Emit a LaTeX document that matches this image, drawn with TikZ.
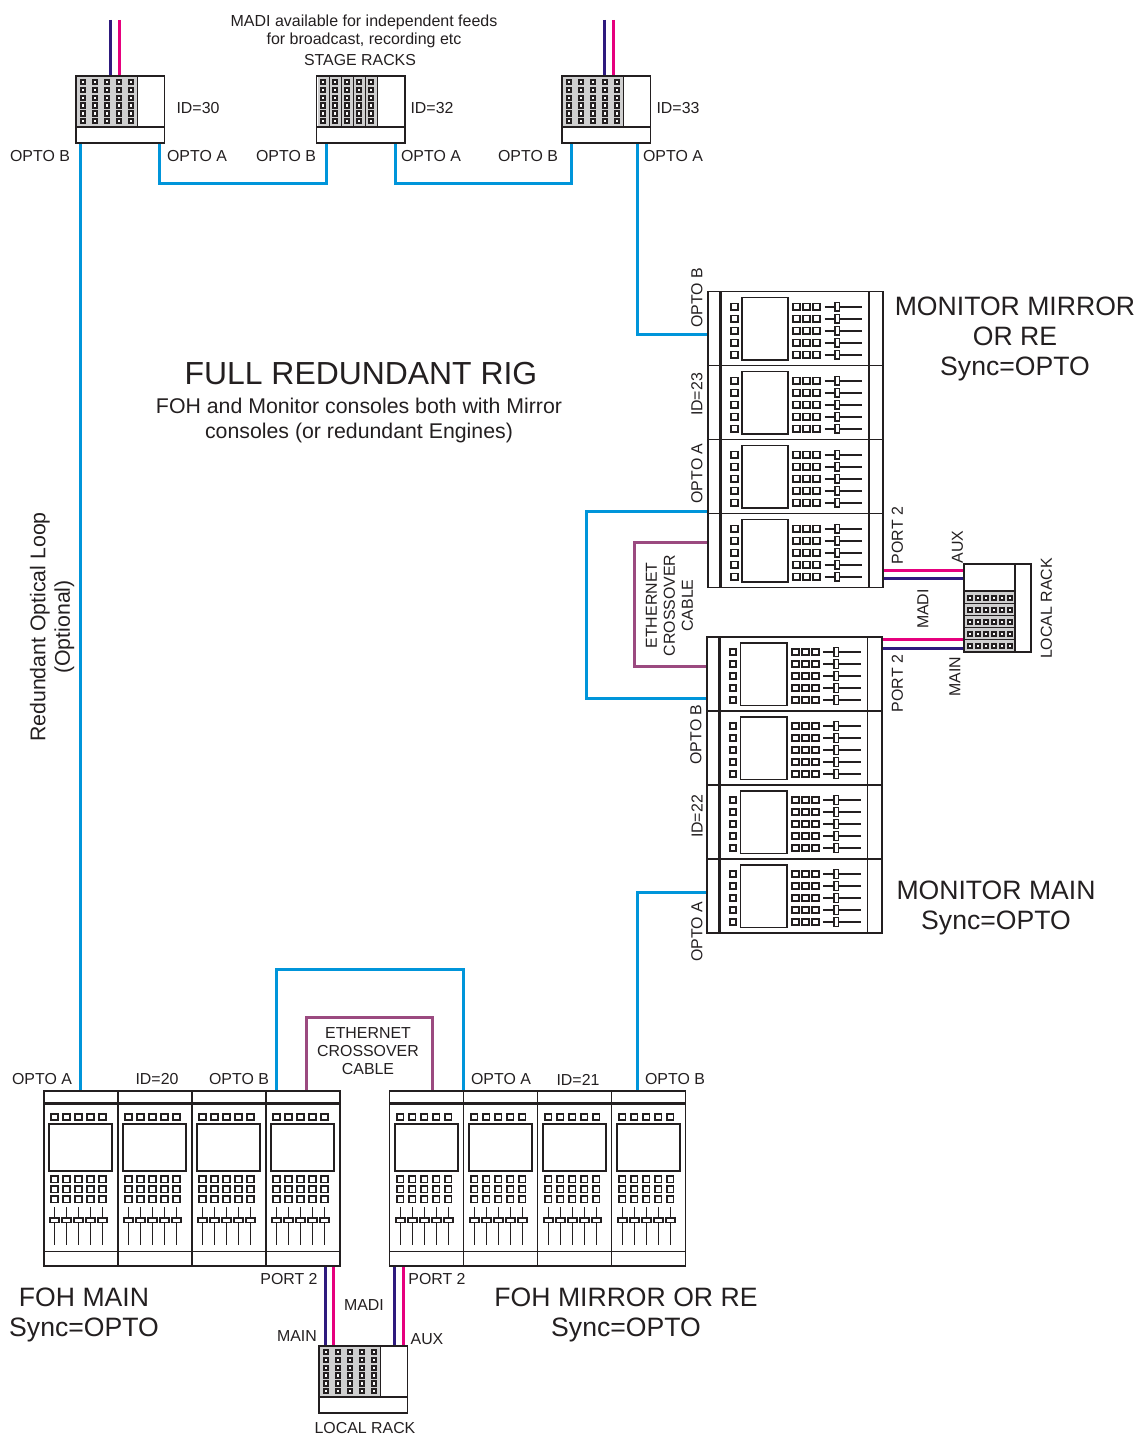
\documentclass[tikz,border=0pt]{standalone}
\usepackage{fontspec}
\setmainfont{Liberation Sans}

\definecolor{inkdark}{HTML}{231F20}
\definecolor{optoblue}{HTML}{0095DA}
\definecolor{madipink}{HTML}{E6007E}
\definecolor{madinavy}{HTML}{2E1A7E}
\definecolor{etherpurple}{HTML}{9B4A80}
\definecolor{stripgrey}{HTML}{CFCFCF}

\tikzset{
  outline/.style={draw=inkdark,line width=1.7pt},
  optoline/.style={draw=optoblue,line width=3pt},
  etherline/.style={draw=etherpurple,line width=3pt},
  pinkline/.style={draw=madipink,line width=3pt},
  navyline/.style={draw=madinavy,line width=3pt},
  smalltext/.style={inner sep=0pt,text=inkdark,align=center,font=\fontsize{15.9}{18}\selectfont},
  midtext/.style={inner sep=0pt,text=inkdark,align=center,font=\fontsize{21.3}{24.5}\selectfont},
  bigtext/.style={inner sep=0pt,text=inkdark,align=center,font=\fontsize{26.6}{30}\selectfont},
  titletext/.style={inner sep=0pt,text=inkdark,align=center,font=\fontsize{31.9}{36}\selectfont},
  % Стойка: пять полос с гнёздами и пустая часть справа
  rackunit/.pic={
    \foreach \col in {0,...,4} {
      \fill[stripgrey] ({1.2+12*\col},0) rectangle ({13.2+12*\col},51);
      \draw[inkdark,line width=1.3pt] ({13.2+12*\col},0) -- ({13.2+12*\col},51);
      \foreach \row in {0,...,5} {
        \filldraw[draw=inkdark,fill=white,line width=2pt]
          ({4.6+12*\col},{4+7.9*\row}) rectangle ({8.8+12*\col},{8.2+7.9*\row});
      }
    }
    \draw[outline] (0,51) -- (88.4,51);
    \draw[outline] (0,0) rectangle (88.4,67.3);
  },
  % Одна секция пульта; начало координат в левом верхнем углу
  consoleunit/.pic={
    \draw[inkdark,line width=2.6pt] (0,12.6) -- (74,12.6);
    \draw[inkdark,line width=1.3pt] (0,161) -- (74,161);
    \foreach \col in {0,...,4} {
      \draw[inkdark,line width=1.9pt]
        ({10.7+12*\col-3.2},23.2) rectangle ({10.7+12*\col+3.2},29.6);
      \foreach \row in {0,...,2} {
        \draw[inkdark,line width=1.9pt]
          ({10.7+12*\col-3.2},{85.4+10*\row}) rectangle ({10.7+12*\col+3.2},{91.8+10*\row});
      }
      \draw[inkdark,line width=1.6pt]
        ({10.7+12*\col},116.6) -- ({10.7+12*\col},154.3);
      \filldraw[draw=inkdark,fill=white,line width=1.6pt]
        ({10.7+12*\col-4.4},127) rectangle ({10.7+12*\col+4.4},131.6);
    }
    \draw[inkdark,line width=1.8pt] (5.3,33.6) rectangle (68,80);
    \draw[outline] (0,0) rectangle (74,175.3);
  }
}

\begin{document}
\begin{tikzpicture}[
  x=1pt,
  y=-1pt,
  line cap=butt,
  line join=miter
]
  \useasboundingbox (0,0) rectangle (1139,1437);

  % Точки подключения кабелей
  \coordinate (ThirtyB) at (80,143);
  \coordinate (ThirtyA) at (159,143);
  \coordinate (ThirtyTwoB) at (326,143);
  \coordinate (ThirtyTwoA) at (395,143);
  \coordinate (ThirtyThreeB) at (571,143);
  \coordinate (ThirtyThreeA) at (637,143);
  \coordinate (MirrorOptoB) at (708,334);
  \coordinate (MirrorOptoA) at (708,511);
  \coordinate (MirrorEther) at (708,542.5);
  \coordinate (MonOptoB) at (707,698);
  \coordinate (MonEther) at (707,666.5);
  \coordinate (MonOptoA) at (707,892);
  \coordinate (FohOptoA) at (80,1091);
  \coordinate (FohEther) at (306,1091);
  \coordinate (FohOptoB) at (276,1091);
  \coordinate (FmrOptoA) at (463,1091);
  \coordinate (FmrEther) at (432,1091);
  \coordinate (FmrOptoB) at (637,1091);

  % Оптическая петля
  \draw[optoline] (ThirtyB) -- (FohOptoA);
  \draw[optoline] (ThirtyA) -- ++(0,40) -| (ThirtyTwoB);
  \draw[optoline] (ThirtyTwoA) -- ++(0,40) -| (ThirtyThreeB);
  \draw[optoline] (ThirtyThreeA) |- (MirrorOptoB);
  \draw[optoline] (MirrorOptoA) -- (586.5,511) |- (MonOptoB);
  \draw[optoline] (MonOptoA) -| (FmrOptoB);
  \draw[optoline] (FohOptoB) |- (463,969) -- (FmrOptoA);

  % Кросс-кабели
  \draw[etherline] (MirrorEther) -- (634.3,542.5) |- (MonEther);
  \draw[etherline] (FohEther) |- (432,1017) -- (FmrEther);

  % MADI
  \draw[navyline] (110,20) -- (110,76);
  \draw[pinkline] (119,20) -- (119,75);
  \draw[navyline] (604.5,20) -- (604.5,76);
  \draw[pinkline] (613.5,20) -- (613.5,75);
  \draw[navyline] (325.3,1266) -- (325.3,1346);
  \draw[pinkline] (333.3,1266) -- (333.3,1346);
  \draw[navyline] (394.3,1266) -- (394.3,1346);
  \draw[pinkline] (403.3,1266) -- (403.3,1346);
  \draw[pinkline] (884,570.7) -- (964,570.7);
  \draw[navyline] (884,578.7) -- (964,578.7);
  \draw[pinkline] (883,639.3) -- (964,639.3);
  \draw[navyline] (883,648) -- (964,648);

  % Стойки
  \pic at (76,75.7) {rackunit};
  \pic at (316.6,75.7) {rackunit};
  \pic at (562.2,75.7) {rackunit};
  \pic at (319.2,1345.7) {rackunit};
  \pic[rotate=90] at (964,652.3) {rackunit};

  % Пульты
  \foreach \i in {0,...,3} {
    \pic at ({43.8+74*\i},1090.7) {consoleunit};
    \pic at ({389.6+74*\i},1090.7) {consoleunit};
    \pic[rotate=90] at (708,{365.4+74*\i}) {consoleunit};
    \pic[rotate=90] at (706.8,{710.7+74*\i}) {consoleunit};
  }

  % Подписи вверху
  \node[smalltext,font=\fontsize{16}{18}\selectfont] (madinote) at (364,31.5) {MADI available for independent feeds\\for broadcast, recording etc};
  \node[smalltext] (stagelabel) at (360,60.5) {STAGE RACKS};
  \node[smalltext] (idthirty) at (198,108.5) {ID=30};
  \node[smalltext] (idthirtytwo) at (432,108.5) {ID=32};
  \node[smalltext] (idthirtythree) at (678,108.5) {ID=33};
  \node[smalltext] (labelb) at (40,156.5) {OPTO B};
  \node[smalltext] (labela) at (197,156.5) {OPTO A};
  \node[smalltext] (labelc) at (286,156.5) {OPTO B};
  \node[smalltext] (labeld) at (431,156.5) {OPTO A};
  \node[smalltext] (labele) at (528,156.5) {OPTO B};
  \node[smalltext] (labelf) at (673,156.5) {OPTO A};

  \node[titletext] (title) at (361,374) {FULL REDUNDANT RIG};
  \node[midtext] (subtitle) at (359,420.5) {FOH and Monitor consoles both with Mirror\\consoles (or redundant Engines)};
  \node[midtext,rotate=90] (looplabel) at (52,627) {Redundant Optical Loop\\(Optional)};

  % Подписи мониторных пультов
  \node[bigtext] (mirrorname) at (1015,338.5) {MONITOR MIRROR\\OR RE\\Sync=OPTO};
  \node[bigtext] (monname) at (996,907.5) {MONITOR MAIN\\Sync=OPTO};
  \node[smalltext,rotate=90] (monoptob) at (697,298) {OPTO B};
  \node[smalltext,rotate=90] (monid) at (697,394.5) {ID=23};
  \node[smalltext,rotate=90] (monoptoa) at (697,473.5) {OPTO A};
  \node[smalltext,rotate=90] (monportup) at (897.5,535.5) {PORT 2};
  \node[smalltext,rotate=90] (monaux) at (957.5,547) {AUX};
  \node[smalltext,rotate=90] (monmadi) at (923,609) {MADI};
  \node[smalltext,rotate=90] (monmain) at (955,676.5) {MAIN};
  \node[smalltext,rotate=90] (monportlow) at (897.5,683.5) {PORT 2};
  \node[smalltext,rotate=90] (monrack) at (1046.5,608.5) {LOCAL RACK};
  \node[smalltext,rotate=90] (monether) at (669.5,605.5) {ETHERNET\\CROSSOVER\\CABLE};
  \node[smalltext,rotate=90] (lowoptob) at (696,734.5) {OPTO B};
  \node[smalltext,rotate=90] (lowid) at (697,816.5) {ID=22};
  \node[smalltext,rotate=90] (lowoptoa) at (697,931.5) {OPTO A};

  % Подписи пультов FOH
  \node[smalltext] (fohether) at (368,1051.5) {ETHERNET\\CROSSOVER\\CABLE};
  \node[smalltext] (fohoptoa) at (42,1079.5) {OPTO A};
  \node[smalltext] (fohid) at (157,1079.5) {ID=20};
  \node[smalltext] (fohoptob) at (239,1079.5) {OPTO B};
  \node[smalltext] (fmroptoa) at (501,1079.5) {OPTO A};
  \node[smalltext] (fmrid) at (578,1079.5) {ID=21};
  \node[smalltext] (fmroptob) at (675,1079.5) {OPTO B};
  \node[smalltext] (fohport) at (289,1279.5) {PORT 2};
  \node[smalltext] (fmrport) at (437,1279.5) {PORT 2};
  \node[smalltext] (fohmadi) at (364,1305.5) {MADI};
  \node[smalltext] (fohmain) at (297,1336.5) {MAIN};
  \node[smalltext] (fmraux) at (427,1339.5) {AUX};
  \node[smalltext] (fohrack) at (365,1428.5) {LOCAL RACK};
  \node[bigtext] (fohname) at (84,1314.5) {FOH MAIN\\Sync=OPTO};
  \node[bigtext] (fmrname) at (626,1314.5) {FOH MIRROR OR RE\\Sync=OPTO};
\end{tikzpicture}
\end{document}
